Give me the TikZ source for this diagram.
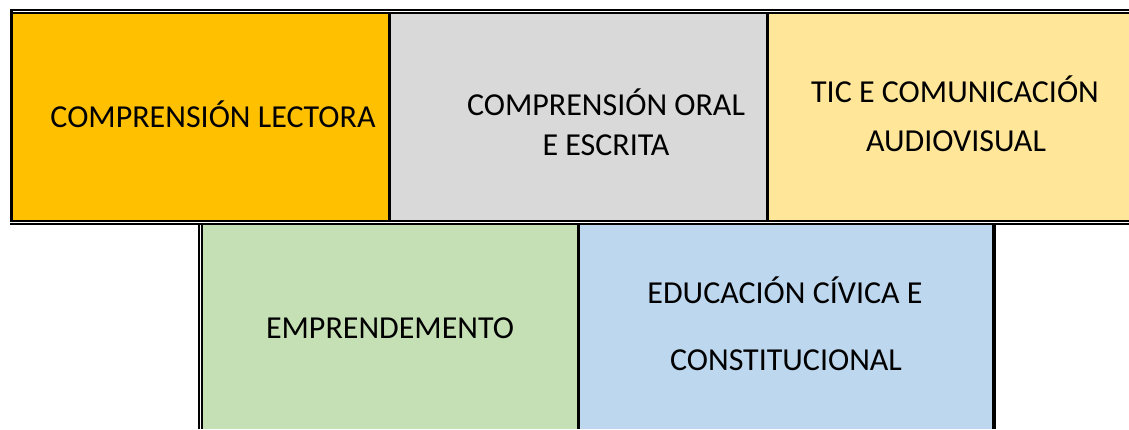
\documentclass[tikz,border=0pt]{standalone}
\usepackage{fontspec}
\setmainfont{Carlito}
\definecolor{lectora}{HTML}{FFC000}
\definecolor{oral}{HTML}{D9D9D9}
\definecolor{tic}{HTML}{FFE699}
\definecolor{emprende}{HTML}{C5E0B4}
\definecolor{civica}{HTML}{BDD7EE}
\begin{document}
\begin{tikzpicture}[x=1pt,y=-1pt,font=\fontsize{32}{40}\selectfont,
  lab/.style={anchor=base,inner sep=0pt},
  rule/.style={line width=3pt},
  dblrule/.style={line width=2pt,double,double distance=1pt}]
\useasboundingbox (0,0) rectangle (1129,429);
\pgfmathsetmacro{\ya}{14}
\pgfmathsetmacro{\yb}{220}
\pgfmathsetmacro{\yc}{225}
% first row
\fill[lectora](13,\ya) rectangle (388,\yb);
\fill[oral](391,\ya) rectangle (766,\yb);
\fill[tic](769,\ya) rectangle (1129,\yb);
% second row
\fill[emprende](203,\yc) rectangle (577,429);
\fill[civica](580,\yc) rectangle (992,429);
% borders
\draw[dblrule](10,11.5)--(1129,11.5);
\draw[dblrule](10,222.5)--(1129,222.5);
\draw[rule](11.5,9)--(11.5,\yb);
\draw[rule](389.5,\ya)--(389.5,\yb);
\draw[rule](767.5,\ya)--(767.5,\yb);
\draw[dblrule](200.5,\yc)--(200.5,429);
\draw[rule](578.5,\yc)--(578.5,429);
\draw[line width=4pt](994,\yc)--(994,429);
% labels
\node[lab] (lectora) at (213,127) {COMPRENSIÓN LECTORA};
\node[lab] (oral1) at (606,115) {COMPRENSIÓN ORAL};
\node[lab] (oral2) at (606,155) {E ESCRITA};
\node[lab] (tic1) at (955,102) {TIC E COMUNICACIÓN};
\node[lab] (tic2) at (956,151) {AUDIOVISUAL};
\node[lab] (emprende) at (390,338) {EMPRENDEMENTO};
\node[lab] (civica1) at (785,303) {EDUCACIÓN CÍVICA E};
\node[lab] (civica2) at (786,370) {CONSTITUCIONAL};
\end{tikzpicture}
\end{document}
